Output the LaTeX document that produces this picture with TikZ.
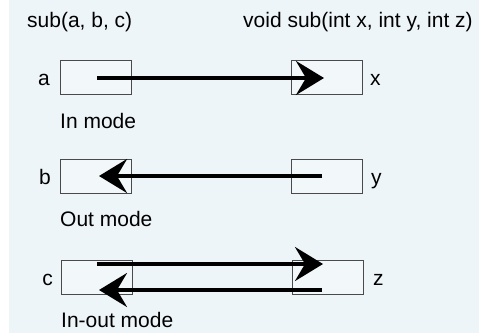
\documentclass[tikz,border=0pt]{standalone}
\usepackage{fontspec}
\setmainfont{Liberation Sans}
\usetikzlibrary{arrows.meta}
\definecolor{bgblue}{HTML}{EEF5F9}
\definecolor{boxfill}{HTML}{F2F7FA}
\definecolor{boxline}{HTML}{4A4A4A}
\begin{document}
\begin{tikzpicture}[x=1pt,y=-1pt,
  lbl/.style={inner sep=0pt,font=\fontsize{21}{25}\selectfont,text=black},
  parbox/.style={draw=boxline,line width=0.9pt,fill=boxfill,minimum width=71pt,minimum height=34pt,inner sep=0pt},
  bigarrow/.style={line width=3.5pt,-{Stealth[length=28pt,width=34pt,inset=10pt]}}
]
\useasboundingbox (0,0) rectangle (479,333);
\fill[bgblue] (9,0) rectangle (479,333);

% headers
\node[lbl,anchor=base west] (hcall) at (27,27) {sub(a, b, c)};
\node[lbl,anchor=base west] (hdecl) at (243,27) {void sub(int x, int y, int z)};

% row a / x
\node[parbox] (ba) at (95.5,77) {};
\node[parbox] (bx) at (326.5,77) {};
\node[lbl,anchor=base east] (la) at (50,85) {a};
\node[lbl,anchor=base west] (lx) at (370,85) {x};
\node[lbl,anchor=base west] (ma) at (60,128) {In mode};

% row b / y
\node[parbox] (bb) at (95.5,176) {};
\node[parbox] (by) at (326.5,176) {};
\node[lbl,anchor=base east] (lb) at (51,184) {b};
\node[lbl,anchor=base west] (ly) at (371,184) {y};
\node[lbl,anchor=base west] (mb) at (60,226) {Out mode};

% row c / z
\node[parbox] (bc) at (96.5,277) {};
\node[parbox] (bz) at (327.5,277) {};
\node[lbl,anchor=base east] (lc) at (53,285) {c};
\node[lbl,anchor=base west] (lz) at (373,285) {z};
\node[lbl,anchor=base west] (mc) at (61,327) {In-out mode};

% arrow endpoints
\coordinate (a1) at (97,78);
\coordinate (x1) at (324,78);
\coordinate (y1) at (322,176);
\coordinate (b1) at (99,176);
\coordinate (c1) at (97,264);
\coordinate (z1) at (323,264);
\coordinate (z2) at (322,290);
\coordinate (c2) at (99,290);

\draw[bigarrow] (a1) -- (x1);
\draw[bigarrow] (y1) -- (b1);
\draw[bigarrow] (c1) -- (z1);
\draw[bigarrow] (z2) -- (c2);
\end{tikzpicture}
\end{document}
